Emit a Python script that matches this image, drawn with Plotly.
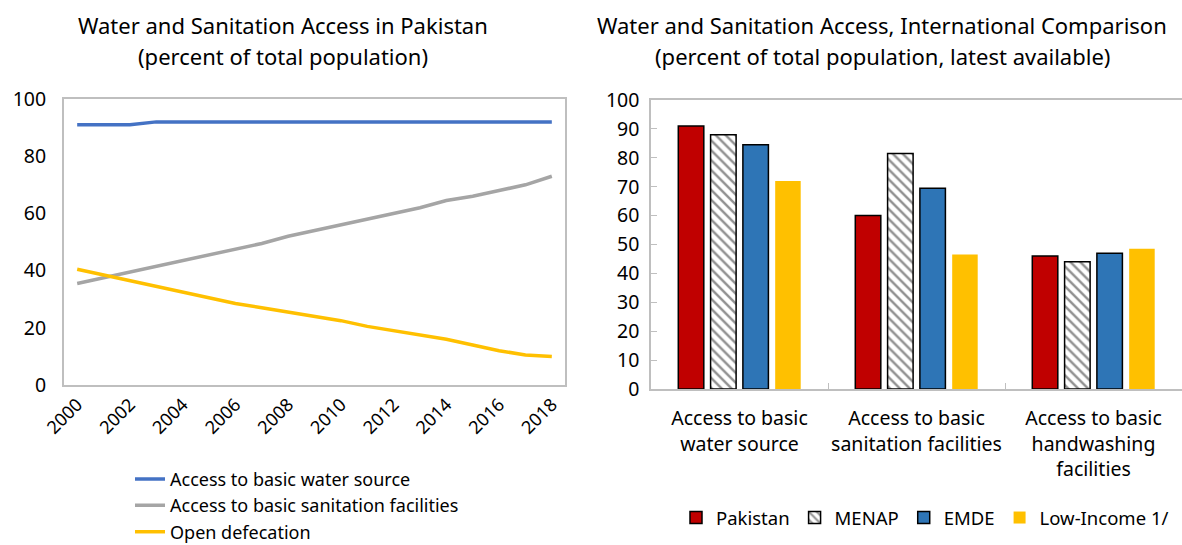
import plotly.graph_objects as go

# ---------------- data ----------------
years = list(range(2000, 2019))
water = [91, 91, 91, 92, 92, 92, 92, 92, 92, 92, 92, 92, 92, 92, 92, 92, 92, 92, 92]
sanitation = [35.5, 37.5, 39.5, 41.5, 43.5, 45.5, 47.5, 49.5, 52, 54, 56, 58, 60, 62, 64.5, 66, 68, 70, 73]
open_def = [40.5, 38.5, 36.5, 34.5, 32.5, 30.5, 28.5, 27, 25.5, 24, 22.5, 20.5, 19, 17.5, 16, 14, 12, 10.5, 10]
line_names = ["Access to basic water source", "Access to basic sanitation facilities", "Open defecation"]
year_ticks = list(range(2000, 2019, 2))

categories = ["Access to basic<br>water source",
              "Access to basic<br>sanitation facilities",
              "Access to basic<br>handwashing<br>facilities"]
pakistan = [91, 60, 46]
menap = [88, 81.5, 44]
emde = [84.5, 69.5, 47]
low_income = [72, 46.5, 48.5]
bar_names = ["Pakistan", "MENAP", "EMDE", "Low-Income 1/"]

title_left = ["Water and Sanitation Access in Pakistan", "(percent of total population)"]
title_right = ["Water and Sanitation Access, International Comparison",
               "(percent of total population, latest available)"]

# ---------------- figure ----------------
FONT = "Noto Sans"
W, H = 1182, 545
fig = go.Figure()

line_colors = ["#4472C4", "#A5A5A5", "#FFC000"]
for name, ys, c in zip(line_names, [water, sanitation, open_def], line_colors):
    fig.add_trace(go.Scatter(x=years, y=ys, mode="lines", name=name,
                             line=dict(color=c, width=3.5),
                             xaxis="x", yaxis="y", legend="legend"))

bar_series = [pakistan, menap, emde, low_income]
bar_colors = ["#C00000", "white", "#2E75B6", "#FFC000"]
for name, ys, c in zip(bar_names, bar_series, bar_colors):
    marker = dict(color=c, line=dict(color="black", width=1.5))
    if name == "MENAP":
        marker["pattern"] = dict(shape="\\", fgcolor="#222222", bgcolor="white",
                                 size=7, solidity=0.35, fillmode="overlay")
    if name == "Low-Income 1/":
        marker["line"] = dict(width=0)
    fig.add_trace(go.Bar(x=categories, y=ys, name=name, marker=marker,
                         xaxis="x2", yaxis="y2", legend="legend2"))

TS = 19.5
axis_font = dict(family=FONT, size=TS, color="black")
grey = "#BFBFBF"

fig.update_layout(
    width=W, height=H,
    margin=dict(l=0, r=0, t=0, b=0, autoexpand=False),
    paper_bgcolor="white", plot_bgcolor="white",
    font=dict(family=FONT, color="black", size=TS),
    barmode="group", bargap=0.27, bargroupgap=0.21,
    xaxis=dict(domain=[64 / W, 565 / W], anchor="y", range=[1999.5, 2018.5],
               tickvals=year_ticks, ticktext=[str(y) for y in year_ticks],
               tickangle=-45, tickfont=dict(family=FONT, size=18),
               showline=True, mirror=True, linecolor=grey, linewidth=2,
               showgrid=False, zeroline=False, ticks="", automargin=False),
    yaxis=dict(domain=[1 - 385 / H, 1 - 99 / H], anchor="x", range=[0, 100], dtick=20,
               tickfont=axis_font, showline=True, mirror=True, linecolor=grey,
               linewidth=2, showgrid=False, zeroline=False, ticks="",
               ticklabelstandoff=12, automargin=False),
    xaxis2=dict(domain=[651 / W, 1.0], anchor="y2", type="category",
                tickfont=axis_font, tickangle=0, showline=True, mirror=True, linecolor=grey,
                linewidth=1.5, showgrid=False, zeroline=False,
                ticks="inside", tickson="boundaries", ticklen=6, tickcolor=grey,
                automargin=False, ticklabelstandoff=11),
    yaxis2=dict(domain=[1 - 389 / H, 1 - 100 / H], anchor="x2", range=[0, 100], dtick=10,
                tickfont=axis_font, showline=True, linecolor=grey, linewidth=1.5,
                showgrid=False, zeroline=False, ticks="inside", ticklen=6,
                tickcolor=grey, ticklabelstandoff=6, automargin=False),
    legend=dict(x=130 / W, y=-0.0105, xanchor="left", yanchor="bottom",
                orientation="v", font=dict(family=FONT, size=18),
                bgcolor="rgba(0,0,0,0)", tracegroupgap=0),
    legend2=dict(x=925 / W, y=1 - 518 / H, xanchor="center", yanchor="middle",
                 orientation="h", font=dict(family=FONT, size=18.5),
                 bgcolor="rgba(0,0,0,0)", itemwidth=30),
    showlegend=True,
)

ann = []
for txt, yy in zip(title_left, [25, 56]):
    ann.append(dict(text=txt, x=283 / W, y=1 - yy / H, xref="paper", yref="paper",
                    xanchor="center", yanchor="middle", showarrow=False,
                    font=dict(family=FONT, size=22, color="black")))
for txt, yy in zip(title_right, [25, 56]):
    ann.append(dict(text=txt, x=882 / W, y=1 - yy / H, xref="paper", yref="paper",
                    xanchor="center", yanchor="middle", showarrow=False,
                    font=dict(family=FONT, size=22, color="black")))
fig.update_layout(annotations=ann)

fig.write_html("out.html", config={"displayModeBar": False},
               post_script="document.body.style.margin='0';")
